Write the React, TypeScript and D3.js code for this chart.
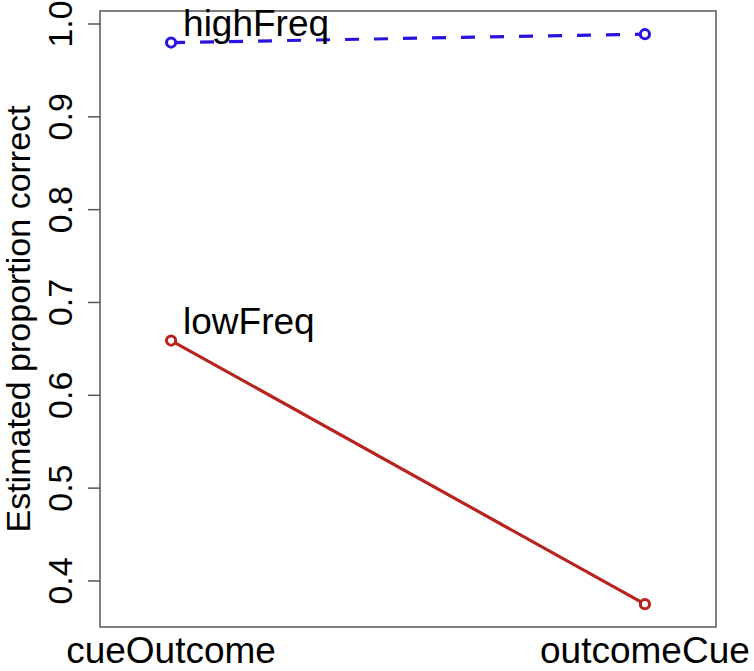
import React from 'react'
import * as d3 from 'd3'

// condition levels on the x axis
const CONDITIONS = ['cueOutcome', 'outcomeCue']
const HIGH_FREQ = [0.98, 0.989]
const LOW_FREQ = [0.659, 0.375]
const Y_TICKS = [0.4, 0.5, 0.6, 0.7, 0.8, 0.9, 1.0]

const W = 754
const H = 671
const box = { left: 100, right: 716, top: 11, bottom: 627 }
const FONT = '"Liberation Sans", Arial, Helvetica, sans-serif'

const BLUE = '#2814dc'
const RED = '#b8231f'

export default function App() {
  const x = d3.scaleLinear().domain([0.85, 2.15]).range([box.left, box.right])
  const y = d3.scaleLinear().domain([0.3504, 1.014]).range([box.bottom, box.top])

  const line = d3.line<number>()
    .x((_, i) => x(i + 1))
    .y(d => y(d))

  const series = [
    { name: 'highFreq', values: HIGH_FREQ, color: BLUE, dash: '14 15' },
    { name: 'lowFreq', values: LOW_FREQ, color: RED, dash: undefined },
  ]

  return (
    <div style={{ position: 'absolute', left: 0, top: 0 }}>
      <svg width={W} height={H} style={{ display: 'block', background: '#fff' }} fontFamily={FONT}>
        {/* plot frame */}
        <rect x={box.left} y={box.top} width={box.right - box.left} height={box.bottom - box.top}
          fill="none" stroke="#555" strokeWidth={1.5} />

        {/* y axis */}
        {Y_TICKS.map(t => (
          <g key={t}>
            <line x1={box.left - 12} x2={box.left} y1={y(t)} y2={y(t)} stroke="#555" strokeWidth={1.5} />
            <text transform={`translate(72,${y(t)}) rotate(-90)`} textAnchor="middle" fontSize={34} fill="#000">
              {t.toFixed(1)}
            </text>
          </g>
        ))}
        <text transform={`translate(30,${(box.top + box.bottom) / 2}) rotate(-90)`} textAnchor="middle"
          fontSize={34} fill="#000">Estimated proportion correct</text>

        {/* x labels */}
        {CONDITIONS.map((c, i) => (
          <text key={c} x={x(i + 1)} y={663} textAnchor="middle" fontSize={37} fill="#000">{c}</text>
        ))}

        {/* series */}
        {series.map(s => (
          <g key={s.name}>
            <path d={line(s.values) || ''} fill="none" stroke={s.color} strokeWidth={3.2}
              strokeDasharray={s.dash} />
            {s.values.map((v, i) => (
              <circle key={i} cx={x(i + 1)} cy={y(v)} r={4.6} fill="#fff" stroke={s.color} strokeWidth={3} />
            ))}
            <text x={x(1) + 12} y={y(s.values[0]) - 6.5} fontSize={37} fill="#000">{s.name}</text>
          </g>
        ))}
      </svg>
    </div>
  )
}
